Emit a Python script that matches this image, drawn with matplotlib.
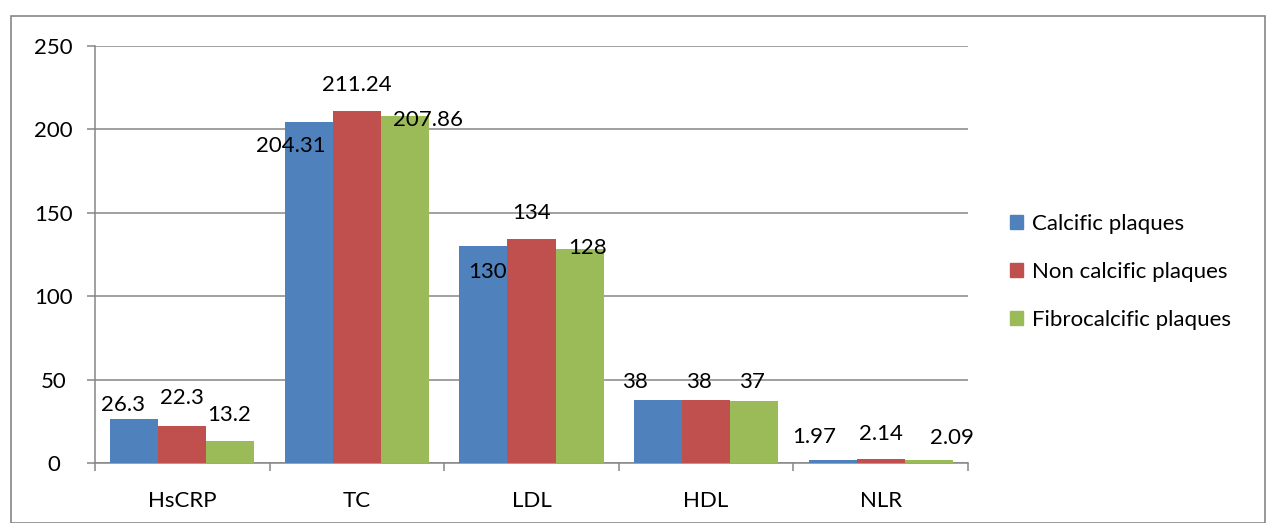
import numpy as np
import matplotlib.pyplot as plt
from matplotlib.patches import Rectangle, Patch

plt.rcParams['font.family'] = ['Lato', 'DejaVu Sans']

categories = ['HsCRP', 'TC', 'LDL', 'HDL', 'NLR']
series_names = ['Calcific plaques', 'Non calcific plaques', 'Fibrocalcific plaques']
calcific = [26.3, 204.31, 130, 38, 1.97]
non_calcific = [22.3, 211.24, 134, 38, 2.14]
fibrocalcific = [13.2, 207.86, 128, 37, 2.09]
label_text = [['26.3', '204.31', '130', '38', '1.97'],
              ['22.3', '211.24', '134', '38', '2.14'],
              ['13.2', '207.86', '128', '37', '2.09']]
colors = ['#4F81BD', '#C0504D', '#9BBB59']

# label positions (x offset from category centre, y in data units) - placed by hand in source
label_dx = [[-0.34, -0.38, -0.25, -0.41, -0.38],
            [0.0, 0.0, 0.0, -0.04, 0.0],
            [0.27, 0.41, 0.32, 0.26, 0.41]]
label_y = [[34.5, 190, 114.5, 48.5, 15.6],
           [39, 226.5, 150, 48.5, 17.4],
           [28.8, 205.6, 129, 48.5, 15.0]]

fig = plt.figure(figsize=(12.67, 5.23), dpi=100)
ax = fig.add_axes([95/1267, 1 - 463/523, (968-95)/1267, (463-46)/523])

fig.patches.append(Rectangle((11/1267, 0), (1265-11)/1267, (523-16)/523,
                             transform=fig.transFigure, fill=False,
                             edgecolor='#868686', linewidth=1.2))

fs = 16
x = np.arange(len(categories))
w = 0.275
data = [calcific, non_calcific, fibrocalcific]
for i, vals in enumerate(data):
    ax.bar(x + (i - 1) * w, vals, width=w, color=colors[i], zorder=3)
    for j in range(len(categories)):
        ax.text(x[j] + label_dx[i][j], label_y[i][j], label_text[i][j],
                ha='center', va='center', fontsize=fs, zorder=4)

ax.set_xlim(-0.5, 4.5)
ax.set_ylim(0, 250)
ax.set_yticks([0, 50, 100, 150, 200, 250])
ax.yaxis.grid(True, color='#868686', linewidth=1.1, zorder=0)
ax.set_xticks(np.arange(-0.5, 5, 1))
ax.set_xticklabels([])
ax.set_xticks(x, minor=True)
ax.set_xticklabels(categories, minor=True)
ax.tick_params(axis='x', which='minor', length=0, labelsize=fs, pad=20)
ax.tick_params(axis='x', which='major', length=6, color='#868686', width=1.1)
ax.tick_params(axis='y', length=6, color='#868686', width=1.1, labelsize=fs, pad=24)
for lbl in ax.get_yticklabels():
    lbl.set_horizontalalignment('center')
for s in ['top', 'right']:
    ax.spines[s].set_visible(False)
for s in ['left', 'bottom']:
    ax.spines[s].set_color('#868686')
    ax.spines[s].set_linewidth(1.1)

handles = [Patch(color=c) for c in colors]
fig.legend(handles, series_names, loc='center left', bbox_to_anchor=(990/1267, 1 - 272/523),
           frameon=False, fontsize=fs, handlelength=0.6, handleheight=0.6,
           handletextpad=0.4, labelspacing=1.25)

fig.savefig('out.png', dpi=100)
